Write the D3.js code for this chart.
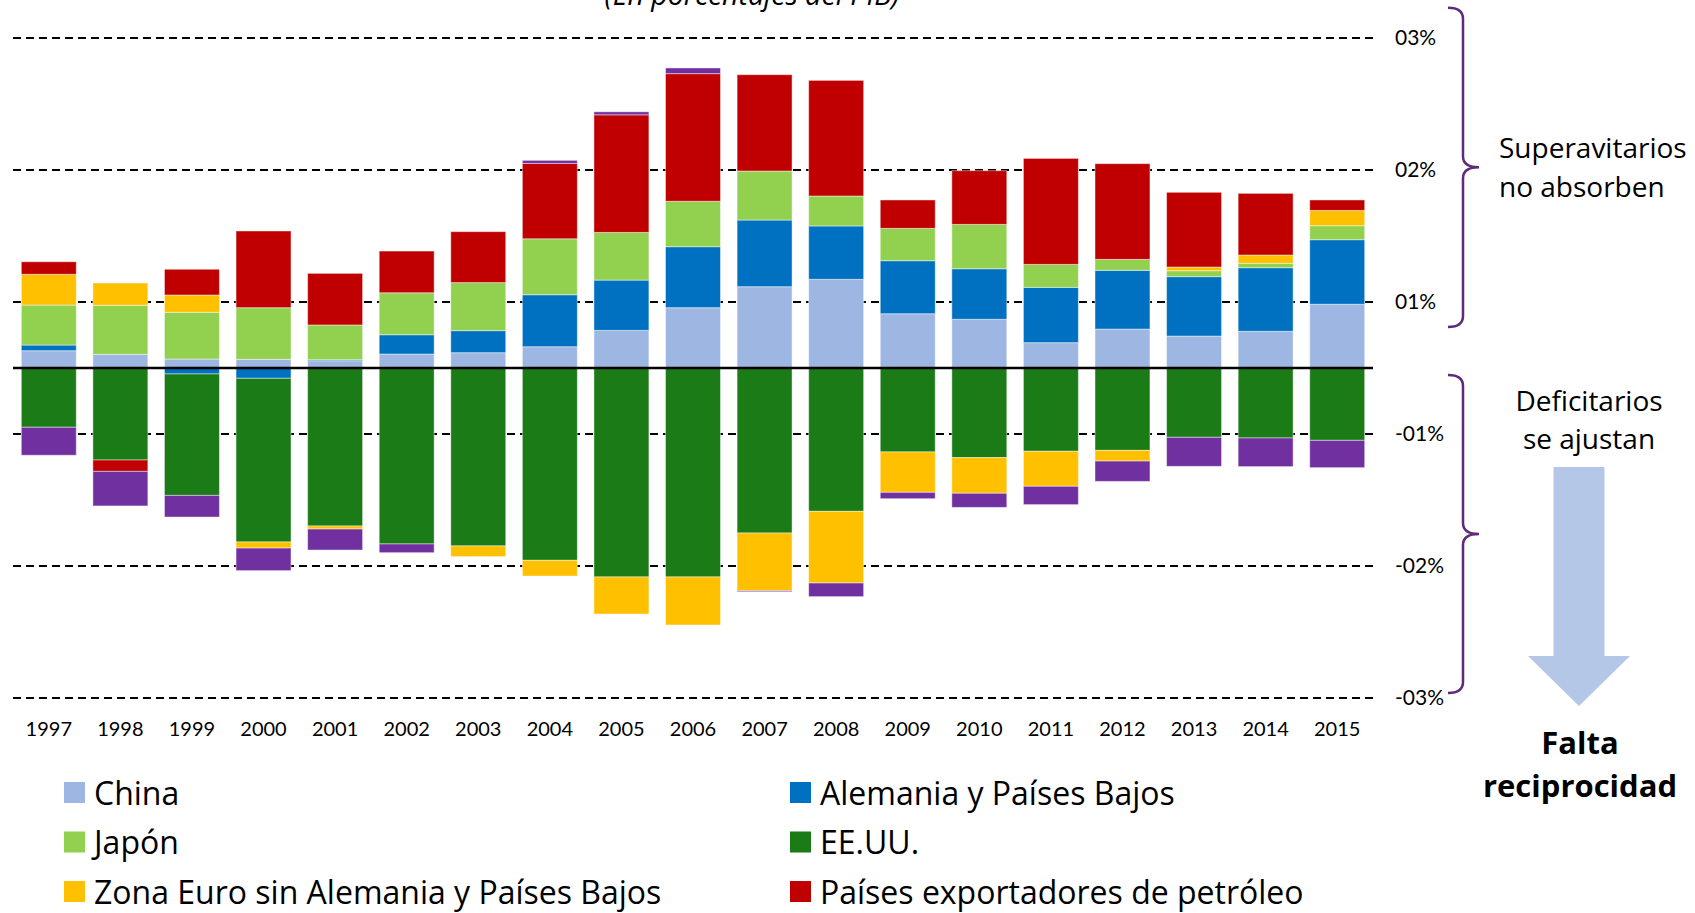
<!DOCTYPE html>
<html lang="es">
<head>
<meta charset="UTF-8">
<script src="https://d3js.org/d3.v7.min.js"></script>
<title>Desequilibrios globales</title>
<style>
  body { margin: 0; background: #fff; }
  svg { display: block; font-family: Lato, "Open Sans", sans-serif; }
  .grid line { stroke: #000; stroke-width: 1.8; stroke-dasharray: 8 5; }
  .tick-label { font-size: 21px; fill: #000; }
  .year { font-size: 20px; fill: #000; }
  .legend text { font-family: "Open Sans", sans-serif; font-size: 32px; fill: #000; }
  .note { font-family: "Open Sans", sans-serif; font-size: 28px; fill: #000; }
  .note-bold { font-family: "Open Sans", sans-serif; font-size: 31px; font-weight: bold; fill: #000; }
</style>
</head>
<body>
<div id="chart"></div>
<script>
// datos: % del PIB mundial
var years = ['1997','1998','1999','2000','2001','2002','2003','2004','2005','2006',
             '2007','2008','2009','2010','2011','2012','2013','2014','2015'];

var china    = [0.131, 0.104, 0.068, 0.066, 0.055, 0.106, 0.116, 0.161, 0.285, 0.457, 0.616, 0.672, 0.411, 0.369, 0.192, 0.295, 0.242, 0.278, 0.483];
var alemania = [0.043, 0.000, -0.045, -0.078, 0.008, 0.146, 0.167, 0.394, 0.381, 0.462, 0.505, 0.404, 0.402, 0.383, 0.419, 0.445, 0.450, 0.482, 0.489];
var japon    = [0.303, 0.371, 0.354, 0.391, 0.263, 0.318, 0.364, 0.424, 0.361, 0.344, 0.371, 0.227, 0.245, 0.336, 0.174, 0.083, 0.045, 0.033, 0.106];
var eeuu     = [-0.449, -0.697, -0.920, -1.240, -1.197, -1.333, -1.348, -1.457, -1.583, -1.583, -1.250, -1.086, -0.636, -0.679, -0.631, -0.624, -0.525, -0.530, -0.548];
var zonaEuro = [0.233, 0.169, 0.131, -0.046, -0.023, 0.000, -0.081, -0.119, -0.281, -0.364, -0.437, -0.543, -0.306, -0.270, -0.265, -0.081, 0.028, 0.063, 0.116];
var petroleo = [0.095, -0.086, 0.195, 0.581, 0.391, 0.316, 0.386, 0.571, 0.891, 0.967, 0.730, 0.876, 0.215, 0.407, 0.803, 0.725, 0.566, 0.467, 0.079];
var otros    = [-0.212, -0.262, -0.164, -0.171, -0.159, -0.066, 0.000, 0.023, 0.023, 0.043, -0.008, -0.103, -0.048, -0.107, -0.139, -0.154, -0.220, -0.217, -0.207];

var seriesNames = ['China', 'Alemania y Países Bajos', 'Japón', 'EE.UU.',
                   'Zona Euro sin Alemania y Países Bajos', 'Países exportadores de petróleo', 'Otros'];
var seriesValues = [china, alemania, japon, eeuu, zonaEuro, petroleo, otros];
var seriesColors = ['#9db7e2', '#0070c0', '#92d050', '#1b7b16', '#ffc000', '#c00000', '#7030a0'];

var yTicks = [2.5, 1.5, 0.5, -0.5, -1.5, -2.5];
var yTickLabels = ['03%', '02%', '01%', '-01%', '-02%', '-03%'];

// leyenda en dos columnas
var legendLeft  = ['China', 'Japón', 'Zona Euro sin Alemania y Países Bajos'];
var legendRight = ['Alemania y Países Bajos', 'EE.UU.', 'Países exportadores de petróleo'];

var width = 1695, height = 913;
var x0 = 13, x1 = 1373;

var svg = d3.select('#chart').append('svg')
    .attr('width', width)
    .attr('height', height);

var x = d3.scaleBand()
    .domain(years)
    .range([x0, x1])
    .paddingInner(0.232)
    .paddingOuter(0.116);

var y = d3.scaleLinear()
    .domain([-2.5, 2.5])
    .range([698, 38]);

var color = d3.scaleOrdinal().domain(seriesNames).range(seriesColors);

// tabla por año
var table = years.map(function(yr, i) {
    var row = { year: yr };
    seriesNames.forEach(function(name, k) { row[name] = seriesValues[k][i]; });
    return row;
});

var stack = d3.stack()
    .keys(seriesNames)
    .order(d3.stackOrderNone)
    .offset(d3.stackOffsetDiverging);
var stacked = stack(table);

// titulo (cortado arriba, como en el original)
svg.append('text')
    .attr('x', 752)
    .attr('y', 5)
    .attr('text-anchor', 'middle')
    .style('font-family', '"Open Sans", sans-serif')
    .style('font-size', '28.5px')
    .style('font-style', 'italic')
    .text('(En porcentajes del PIB)');

// lineas de grilla
svg.append('g')
    .attr('class', 'grid')
    .selectAll('line')
    .data(yTicks)
    .enter().append('line')
        .attr('x1', x0)
        .attr('x2', x1)
        .attr('y1', function(d) { return y(d); })
        .attr('y2', function(d) { return y(d); });

// barras
svg.append('g')
    .selectAll('g')
    .data(stacked)
    .enter().append('g')
        .attr('fill', function(d) { return color(d.key); })
    .selectAll('rect')
    .data(function(d) { return d; })
    .enter().append('rect')
        .attr('x', function(d) { return x(d.data.year); })
        .attr('width', x.bandwidth())
        .attr('y', function(d) { return y(Math.max(d[0], d[1])); })
        .attr('height', function(d) { return Math.abs(y(d[0]) - y(d[1])); })
        .attr('stroke', '#fff')
        .attr('stroke-opacity', 0.45)
        .attr('stroke-width', 1);

// linea de cero
svg.append('line')
    .attr('x1', x0)
    .attr('x2', x1)
    .attr('y1', y(0))
    .attr('y2', y(0))
    .attr('stroke', '#000')
    .attr('stroke-width', 2.5);

// etiquetas del eje (derecha)
svg.append('g')
    .selectAll('text')
    .data(yTicks)
    .enter().append('text')
        .attr('class', 'tick-label')
        .attr('x', 1395)
        .attr('y', function(d) { return y(d); })
        .attr('dy', '0.35em')
        .text(function(d, i) { return yTickLabels[i]; });

// años
svg.append('g')
    .selectAll('text')
    .data(years)
    .enter().append('text')
        .attr('class', 'year')
        .attr('x', function(d) { return x(d) + x.bandwidth() / 2; })
        .attr('y', 736)
        .attr('text-anchor', 'middle')
        .text(function(d) { return d; });

// leyenda
function drawLegend(names, lx) {
    var g = svg.append('g').attr('class', 'legend');
    var item = g.selectAll('g')
        .data(names)
        .enter().append('g')
            .attr('transform', function(d, i) { return 'translate(' + lx + ',' + (793 + i * 49.5) + ')'; });
    item.append('rect')
        .attr('x', 0)
        .attr('y', -11)
        .attr('width', 21)
        .attr('height', 21)
        .attr('fill', function(d) { return color(d); });
    item.append('text')
        .attr('x', 30)
        .attr('y', 0)
        .attr('dy', '0.36em')
        .text(function(d) { return d; });
}
drawLegend(legendLeft, 64);
drawLegend(legendRight, 790);

// llaves (en unidades del eje)
var braces = [
    { top: 2.73, mid: 1.52, bottom: 0.31 },
    { top: -0.053, mid: -1.258, bottom: -2.462 }
];
var bx = 1448, bv = 1463, bt = 1479, r = 11;
svg.append('g')
    .selectAll('path')
    .data(braces)
    .enter().append('path')
        .attr('fill', 'none')
        .attr('stroke', '#5e2b7a')
        .attr('stroke-width', 2.5)
        .attr('d', function(b) {
            var a = y(b.top), m = y(b.mid), z = y(b.bottom);
            return 'M' + bx + ',' + a +
                   ' Q' + bv + ',' + a + ' ' + bv + ',' + (a + r) +
                   ' L' + bv + ',' + (m - r) +
                   ' Q' + bv + ',' + m + ' ' + bt + ',' + m +
                   ' Q' + bv + ',' + m + ' ' + bv + ',' + (m + r) +
                   ' L' + bv + ',' + (z - r) +
                   ' Q' + bv + ',' + z + ' ' + bx + ',' + z;
        });

// textos de la derecha
svg.append('text').attr('class', 'note')
    .attr('x', 1499).attr('y', 158).text('Superavitarios');
svg.append('text').attr('class', 'note')
    .attr('x', 1499).attr('y', 197).text('no absorben');

svg.append('text').attr('class', 'note')
    .attr('x', 1589).attr('y', 411).attr('text-anchor', 'middle').text('Deficitarios');
svg.append('text').attr('class', 'note')
    .attr('x', 1589).attr('y', 449).attr('text-anchor', 'middle').text('se ajustan');

// flecha hacia abajo
var arrow = { cx: 1579, shaft: 25.5, head: 51, top: 467, neck: 656, tip: 706 };
svg.append('path')
    .attr('fill', '#b4c7e7')
    .attr('d', 'M' + (arrow.cx - arrow.shaft) + ',' + arrow.top +
               ' L' + (arrow.cx + arrow.shaft) + ',' + arrow.top +
               ' L' + (arrow.cx + arrow.shaft) + ',' + arrow.neck +
               ' L' + (arrow.cx + arrow.head) + ',' + arrow.neck +
               ' L' + arrow.cx + ',' + arrow.tip +
               ' L' + (arrow.cx - arrow.head) + ',' + arrow.neck +
               ' L' + (arrow.cx - arrow.shaft) + ',' + arrow.neck + ' Z');

svg.append('text').attr('class', 'note-bold')
    .attr('x', 1580).attr('y', 754).attr('text-anchor', 'middle').text('Falta');
svg.append('text').attr('class', 'note-bold')
    .attr('x', 1580).attr('y', 797).attr('text-anchor', 'middle').text('reciprocidad');
</script>
</body>
</html>
